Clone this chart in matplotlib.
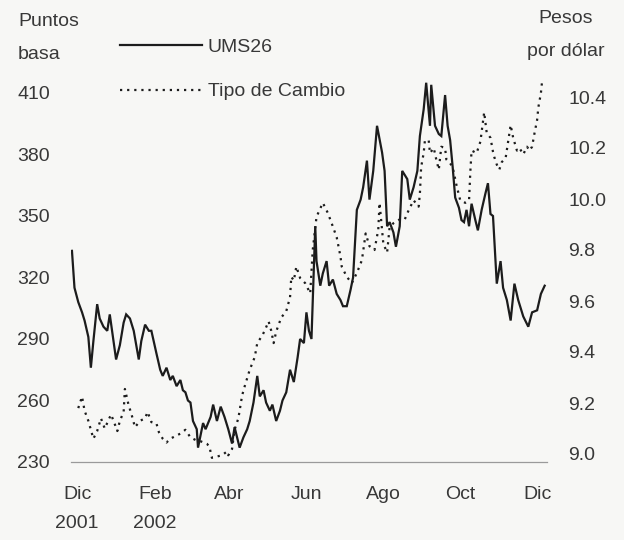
import matplotlib
matplotlib.use("Agg")
import matplotlib.pyplot as plt
import pandas as pd

# Diferencial del bono UMS26 (puntos base)
fechas_ums = [
    "2001-11-27", "2001-11-29", "2001-12-02", "2001-12-05", "2001-12-07", "2001-12-10",
    "2001-12-12", "2001-12-14", "2001-12-17", "2001-12-19", "2001-12-22", "2001-12-25",
    "2001-12-27", "2001-12-30", "2002-01-01", "2002-01-04", "2002-01-07", "2002-01-09",
    "2002-01-12", "2002-01-15", "2002-01-19", "2002-01-21", "2002-01-24", "2002-01-27",
    "2002-01-29", "2002-02-02", "2002-02-05", "2002-02-07", "2002-02-10", "2002-02-13",
    "2002-02-15", "2002-02-18", "2002-02-21", "2002-02-23", "2002-02-25", "2002-02-27",
    "2002-03-01", "2002-03-03", "2002-03-06", "2002-03-07", "2002-03-11", "2002-03-13",
    "2002-03-17", "2002-03-19", "2002-03-22", "2002-03-25", "2002-03-28", "2002-03-31",
    "2002-04-03", "2002-04-05", "2002-04-07", "2002-04-09", "2002-04-12", "2002-04-15",
    "2002-04-17", "2002-04-20", "2002-04-23", "2002-04-25", "2002-04-28", "2002-04-30",
    "2002-05-03", "2002-05-05", "2002-05-08", "2002-05-11", "2002-05-13", "2002-05-16",
    "2002-05-19", "2002-05-22", "2002-05-25", "2002-05-27", "2002-05-30", "2002-06-01",
    "2002-06-03", "2002-06-05", "2002-06-08", "2002-06-09", "2002-06-12", "2002-06-14",
    "2002-06-17", "2002-06-19", "2002-06-22", "2002-06-25", "2002-06-28", "2002-06-30",
    "2002-07-03", "2002-07-06", "2002-07-08", "2002-07-11", "2002-07-14", "2002-07-16",
    "2002-07-19", "2002-07-21", "2002-07-24", "2002-07-27", "2002-07-31", "2002-08-02",
    "2002-08-04", "2002-08-06", "2002-08-09", "2002-08-11", "2002-08-14", "2002-08-16",
    "2002-08-20", "2002-08-22", "2002-08-25", "2002-08-28", "2002-08-30", "2002-09-02",
    "2002-09-04", "2002-09-07", "2002-09-08", "2002-09-11", "2002-09-14", "2002-09-16",
    "2002-09-19", "2002-09-21", "2002-09-23", "2002-09-25", "2002-09-27", "2002-09-30",
    "2002-10-02", "2002-10-04", "2002-10-06", "2002-10-08", "2002-10-10", "2002-10-13",
    "2002-10-15", "2002-10-18", "2002-10-21", "2002-10-23", "2002-10-25", "2002-10-27",
    "2002-10-29", "2002-10-30", "2002-11-02", "2002-11-04", "2002-11-07", "2002-11-10",
    "2002-11-13", "2002-11-16", "2002-11-20", "2002-11-24", "2002-11-27", "2002-12-01",
    "2002-12-04", "2002-12-07",
]
ums26 = [
    333, 315, 308, 303, 299, 291,
    276, 289, 307, 300, 296, 294,
    302, 289, 280, 287, 298, 302,
    300, 294, 280, 289, 297, 294,
    294, 283, 275, 272, 276, 270,
    272, 267, 270, 265, 264, 260,
    259, 250, 246, 237, 249, 246,
    252, 258, 250, 257, 252, 246,
    239, 247, 242, 237, 242, 246,
    250, 259, 272, 262, 265, 259,
    255, 258, 250, 255, 260, 264,
    275, 269, 281, 290, 288, 303,
    294, 290, 345, 328, 316, 322,
    328, 316, 319, 312, 309, 306,
    306, 314, 320, 353, 358, 364,
    377, 358, 372, 394, 381, 372,
    345, 347, 342, 335, 345, 372,
    368, 358, 364, 372, 389, 402,
    415, 394, 414, 394, 390, 389,
    409, 394, 387, 374, 359, 354,
    348, 347, 353, 345, 356, 348,
    343, 353, 361, 366, 351, 350,
    328, 317, 328, 315, 309, 299,
    317, 309, 301, 296, 303, 304,
    312, 316,
]

# Tipo de cambio (pesos por dólar)
fechas_tc = [
    "2001-12-02", "2001-12-05", "2001-12-07", "2001-12-10", "2001-12-14", "2001-12-17",
    "2001-12-20", "2001-12-23", "2001-12-28", "2001-12-30", "2002-01-02", "2002-01-04",
    "2002-01-07", "2002-01-08", "2002-01-11", "2002-01-13", "2002-01-16", "2002-01-20",
    "2002-01-24", "2002-01-26", "2002-01-29", "2002-02-02", "2002-02-04", "2002-02-07",
    "2002-02-10", "2002-02-13", "2002-02-17", "2002-02-21", "2002-02-25", "2002-03-01",
    "2002-03-05", "2002-03-09", "2002-03-14", "2002-03-16", "2002-03-18", "2002-03-22",
    "2002-03-26", "2002-03-30", "2002-03-31", "2002-04-03", "2002-04-05", "2002-04-08",
    "2002-04-11", "2002-04-13", "2002-04-17", "2002-04-21", "2002-04-23", "2002-04-27",
    "2002-04-29", "2002-05-02", "2002-05-04", "2002-05-06", "2002-05-08", "2002-05-12",
    "2002-05-16", "2002-05-19", "2002-05-20", "2002-05-22", "2002-05-24", "2002-05-27",
    "2002-05-31", "2002-06-04", "2002-06-06", "2002-06-09", "2002-06-14", "2002-06-18",
    "2002-06-21", "2002-06-25", "2002-06-28", "2002-06-29", "2002-07-03", "2002-07-07",
    "2002-07-11", "2002-07-15", "2002-07-18", "2002-07-21", "2002-07-25", "2002-07-28",
    "2002-07-29", "2002-08-01", "2002-08-04", "2002-08-06", "2002-08-09", "2002-08-14",
    "2002-08-18", "2002-08-21", "2002-08-25", "2002-08-29", "2002-08-30", "2002-08-31",
    "2002-09-02", "2002-09-03", "2002-09-06", "2002-09-07", "2002-09-10", "2002-09-12",
    "2002-09-14", "2002-09-16", "2002-09-19", "2002-09-20", "2002-09-23", "2002-09-25",
    "2002-09-28", "2002-10-01", "2002-10-05", "2002-10-08", "2002-10-09", "2002-10-10",
    "2002-10-14", "2002-10-17", "2002-10-19", "2002-10-20", "2002-10-22", "2002-10-25",
    "2002-10-27", "2002-10-28", "2002-10-30", "2002-11-01", "2002-11-03", "2002-11-06",
    "2002-11-10", "2002-11-12", "2002-11-15", "2002-11-17", "2002-11-20", "2002-11-23",
    "2002-11-25", "2002-11-27", "2002-11-29", "2002-12-01", "2002-12-02", "2002-12-04",
    "2002-12-05",
]
tipo_cambio = [
    9.180, 9.225, 9.170, 9.130, 9.060, 9.090,
    9.140, 9.100, 9.155, 9.130, 9.090, 9.130,
    9.165, 9.255, 9.190, 9.160, 9.105, 9.130,
    9.140, 9.165, 9.125, 9.120, 9.085, 9.060,
    9.045, 9.060, 9.070, 9.080, 9.095, 9.065,
    9.055, 9.050, 9.040, 9.030, 8.985, 8.990,
    8.995, 9.010, 8.995, 9.020, 9.095, 9.140,
    9.230, 9.265, 9.330, 9.380, 9.435, 9.465,
    9.485, 9.520, 9.485, 9.435, 9.480, 9.535,
    9.560, 9.615, 9.695, 9.680, 9.735, 9.690,
    9.670, 9.630, 9.800, 9.930, 9.985, 9.945,
    9.905, 9.850, 9.775, 9.735, 9.695, 9.670,
    9.710, 9.760, 9.865, 9.815, 9.800, 9.880,
    9.985, 9.825, 9.790, 9.890, 9.905, 9.920,
    9.920, 9.955, 9.995, 9.970, 10.020, 10.125,
    10.180, 10.230, 10.230, 10.180, 10.200, 10.155,
    10.115, 10.205, 10.200, 10.155, 10.140, 10.125,
    10.055, 9.995, 9.985, 9.995, 10.105, 10.190,
    10.180, 10.225, 10.300, 10.340, 10.260, 10.240,
    10.185, 10.165, 10.135, 10.115, 10.145, 10.160,
    10.290, 10.240, 10.190, 10.200, 10.175, 10.205,
    10.190, 10.205, 10.260, 10.310, 10.360, 10.415,
    10.465,
]

ticks_x = ["2001-12-01", "2002-02-01", "2002-04-01", "2002-06-01",
           "2002-08-01", "2002-10-01", "2002-12-01"]
etiquetas_x = ["Dic\n2001", "Feb\n2002", "Abr", "Jun", "Ago", "Oct", "Dic"]
ticks_pb = [230, 260, 290, 320, 350, 380, 410]
ticks_tc = [9.0, 9.2, 9.4, 9.6, 9.8, 10.0, 10.2, 10.4]

plt.rcParams["font.family"] = ["Liberation Sans", "DejaVu Sans"]
TXT = "#383838"
FS = 14
W, H = 624, 540

fig = plt.figure(figsize=(W / 100, H / 100), dpi=100, facecolor="#f7f7f5")
ax = fig.add_axes([70.7 / W, (H - 462) / H, 476.5 / W, 392 / H])
ax.set_facecolor("none")
ax2 = ax.twinx()

l1, = ax.plot(pd.to_datetime(fechas_ums), ums26, color="#1c1c1c", lw=1.6,
              solid_joinstyle="miter", label="UMS26")
l2, = ax2.plot(pd.to_datetime(fechas_tc), tipo_cambio, color="#1c1c1c", lw=1.6,
               linestyle=(0, (1, 2.2)), label="Tipo de Cambio")

ax.set_xlim(pd.Timestamp("2001-11-26"), pd.Timestamp("2002-12-09"))
ax.set_ylim(230, 230 + 392 / 2.05)
ax2.set_ylim(9.0 - 8 / 255, 9.0 + 384 / 255)

ax.set_xticks(pd.to_datetime(ticks_x))
ax.set_xticklabels(etiquetas_x, linespacing=1.95)
ax.set_yticks(ticks_pb)
ax.set_yticklabels([str(v) for v in ticks_pb])
ax2.set_yticks(ticks_tc)
ax2.set_yticklabels([f"{v:.1f}" for v in ticks_tc])

ax.tick_params(axis="x", length=0, pad=17, labelsize=FS, labelcolor=TXT)
ax.tick_params(axis="y", length=0, pad=15, labelsize=FS, labelcolor=TXT)
ax2.tick_params(axis="y", length=0, pad=15, labelsize=FS, labelcolor=TXT)

for a in (ax, ax2):
    for s in a.spines.values():
        s.set_visible(False)
ax.spines["bottom"].set_visible(True)
ax.spines["bottom"].set_color("#9a9a9a")
ax.spines["bottom"].set_linewidth(0.9)

fig.text(18 / W, 1 - 38 / H, "Puntos\nbasa", fontsize=FS, color=TXT,
         ha="left", va="center", linespacing=2.2)
fig.text(566 / W, 1 - 35 / H, "Pesos\npor dólar", fontsize=FS, color=TXT,
         ha="center", va="center", linespacing=2.2)

fig.legend(handles=[l1, l2], loc="upper left",
           bbox_to_anchor=(120 / W, 1 - 38 / H), bbox_transform=fig.transFigure,
           frameon=False, fontsize=FS, labelcolor=TXT, handlelength=4.2,
           handletextpad=0.3, labelspacing=1.4, borderpad=0, borderaxespad=0)

fig.savefig("out.png", dpi=100, facecolor=fig.get_facecolor())
